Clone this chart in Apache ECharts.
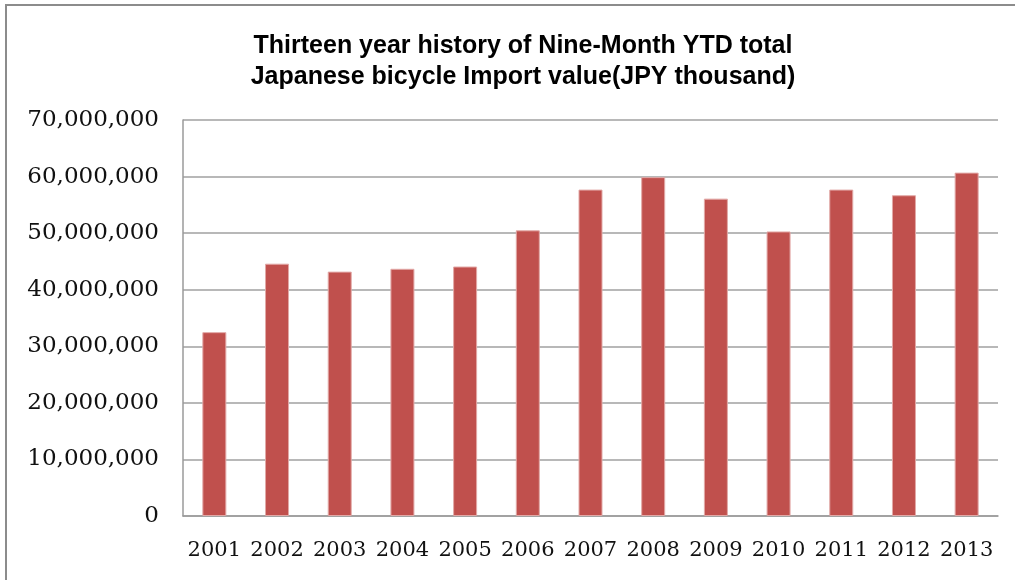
<!DOCTYPE html>
<html>
<head>
<meta charset="utf-8">
<script src="https://cdn.jsdelivr.net/npm/echarts@6/dist/echarts.min.js"></script>
<style>
  html, body { margin: 0; padding: 0; background: #fff; }
  #chart { width: 1015px; height: 580px; }
</style>
</head>
<body>
<div id="chart"></div>
<script>
// 年份与进口额（千日元）
const years = ['2001', '2002', '2003', '2004', '2005', '2006', '2007',
  '2008', '2009', '2010', '2011', '2012', '2013'];
const importValues = [32500000, 44600000, 43200000, 43700000, 44100000, 50500000,
  57700000, 59900000, 56100000, 50300000, 57700000, 56700000, 60700000];
const titleLines = ['Thirteen year history of Nine-Month YTD total',
  'Japanese bicycle Import value(JPY thousand)'];

const chart = echarts.init(document.getElementById('chart'));

const option = {
  animation: false,
  backgroundColor: '#fff',
  title: {
    text: titleLines.join('\n'),
    left: 518,
    textAlign: 'center',
    top: 26,
    textStyle: {
      fontFamily: 'Liberation Sans, Arial, sans-serif',
      fontWeight: 'bold',
      fontSize: 25,
      lineHeight: 31,
      color: '#000'
    }
  },
  // 外框（只露出左边和上边）
  graphic: [{
    type: 'rect',
    shape: { x: 6, y: 5, width: 1100, height: 700 },
    style: { fill: 'none', stroke: '#8c8c8c', lineWidth: 2 },
    silent: true
  }],
  grid: {
    left: 183,
    right: 17,
    top: 120,
    bottom: 64,
    containLabel: false
  },
  xAxis: {
    type: 'category',
    data: years,
    axisLine: { show: true, lineStyle: { color: '#9a9a9a', width: 1.5 } },
    axisTick: { show: false },
    splitLine: { show: false },
    axisLabel: {
      interval: 0,
      margin: 24,
      fontFamily: 'DejaVu Serif, serif',
      fontSize: 21,
      color: '#111'
    }
  },
  yAxis: {
    type: 'value',
    min: 0,
    max: 70000000,
    interval: 10000000,
    axisLine: { show: true, lineStyle: { color: '#9a9a9a', width: 1.5 } },
    axisTick: { show: false },
    splitLine: { show: true, lineStyle: { color: '#a0a0a0', width: 1.5 } },
    axisLabel: {
      margin: 24,
      fontFamily: 'DejaVu Serif, serif',
      fontSize: 23,
      color: '#111',
      padding: [4, 0, 0, 0],
      formatter: v => v.toLocaleString('en-US')
    }
  },
  series: [{
    type: 'bar',
    data: importValues,
    barWidth: 24,
    itemStyle: {
      color: '#C0504D',
      borderColor: '#e2a9a7',
      borderWidth: 1
    }
  }]
};

chart.setOption(option);
</script>
</body>
</html>
